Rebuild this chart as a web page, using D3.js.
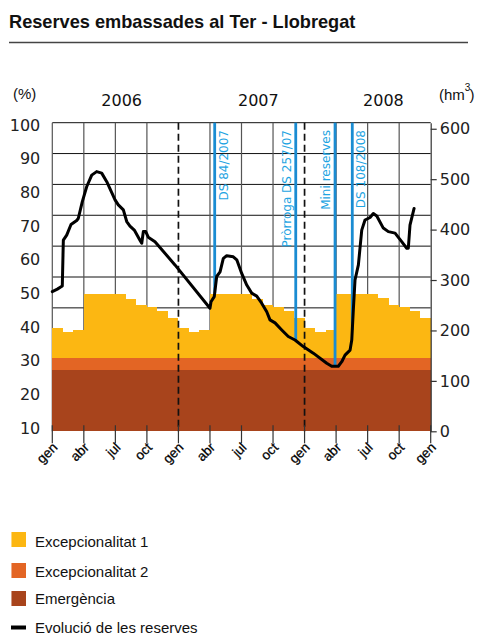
<!DOCTYPE html>
<html><head><meta charset="utf-8">
<script src="https://cdn.jsdelivr.net/npm/d3@7"></script>
<style>body{margin:0;background:#fff}svg{display:block}</style>
</head><body><svg id="c" width="478" height="634"></svg>
<script>
// ---------------- DATA ----------------
const title = "Reserves embassades al Ter - Llobregat";
const years = ["2006", "2007", "2008"];
const monthTicks = [0, 3, 6, 9, 12, 15, 18, 21, 24, 27, 30, 33, 36];
const monthLabels = ["gen", "abr", "jul", "oct", "gen", "abr", "jul", "oct", "gen", "abr", "jul", "oct", "gen"];
const yearBoundaries = [12, 24];
const pctTicks = [10, 20, 30, 40, 50, 60, 70, 80, 90, 100];
const pctGrid = [10, 20, 30, 40, 50, 60, 70, 80, 90, 100];
const hm3Ticks = [0, 100, 200, 300, 400, 500, 600];
const capacityHm3 = 612;

// monthly threshold levels (hm3), gen 2006 .. des 2008
const emergenciaHm3 = [122,122,122,122,122,122,122,122,122,122,122,122,
                       122,122,122,122,122,122,122,122,122,122,122,122,
                       122,122,122,122,122,122,122,122,122,122,122,122];
const excepcionalitat2Hm3 = [146,146,146,146,146,146,146,146,146,146,146,146,
                             146,146,146,146,146,146,146,146,146,146,146,146,
                             146,146,146,146,146,146,146,146,146,146,146,146];
const excepcionalitat1Hm3 = [204,196,200,272,272,272,272,263,251,246,239,225,
                             204,196,200,272,272,272,272,263,251,246,239,225,
                             204,196,200,272,272,272,272,265,251,246,239,225];

// reserves evolution: months since gen 2006, volume hm3
const reserveMonth = [0, 0.48, 0.95, 1.05, 1.37, 1.78, 2.32, 2.47, 2.85, 3.27, 3.75, 4.22, 4.70, 5.18,
  5.97, 6.28, 6.76, 7.08, 7.39, 7.80, 8.34, 8.51, 8.66, 8.89, 9.13, 9.77, 11.67, 15.0, 15.1, 15.41,
  15.64, 15.96, 16.27, 16.59, 17.22, 17.55, 18.02, 18.5, 18.97, 19.45, 19.92, 20.4, 20.71, 21.19,
  21.83, 22.45, 23.09, 23.88, 24.83, 26.11, 26.58, 27.21, 27.54, 27.85, 28.33, 28.49, 28.64, 28.8,
  29.12, 29.44, 29.75, 30.23, 30.54, 30.87, 31.49, 31.97, 32.61, 33.24, 33.72, 33.87, 34.03, 34.42];
const reserveHm3 = [277, 282, 288, 379, 389, 410, 418, 422, 455, 485, 508, 515, 512, 495,
  459, 449, 439, 416, 407, 399, 379, 373, 396, 396, 385, 376, 330, 244, 257, 267,
  307, 316, 343, 348, 346, 340, 313, 290, 274, 268, 254, 237, 221, 215,
  201, 188, 181, 168, 155, 135, 129, 129, 138, 151, 161, 181, 241, 300,
  330, 399, 419, 424, 432, 427, 403, 396, 393, 376, 363, 363, 409, 442];

const decreeLabels = ["DS 84/2007", "Pròrroga DS 257/07", "Mini reserves", "DS 108/2008"];
const decreeMonth = [15.45, 23.16, 26.9, 28.54];

const legendLabels = ["Excepcionalitat 1", "Excepcionalitat 2", "Emergència", "Evolució de les reserves"];

// ---------------- LAYOUT / STYLE ----------------
const C = {
  yellow: "#FCB712", orange: "#E36524", brown: "#A8441C",
  blue: "#1A8CD2", blueText: "#1DA4E2"
};
const M = { left: 52.3, right: 430.7, top: 122.7, bottom: 431.3 };
const yearLabelMonth = [6.6, 19.6, 31.5];
const decreeSide = [1, -1, -1, 1];
const NUM_FONT = "DejaVu Sans, Verdana, sans-serif";
const TXT_FONT = "Liberation Sans, Arial, Helvetica, sans-serif";

const svg = d3.select("#c");
const x = d3.scaleLinear().domain([0, 36]).range([M.left, M.right]);
const y = d3.scaleLinear().domain([0, capacityHm3]).range([M.bottom, M.top]);
const yPctLabel = d3.scaleLinear().domain([10, 100]).range([428, 125]);

// title
svg.append("text").attr("x", 9).attr("y", 28).text(title)
  .attr("font-family", TXT_FONT).attr("font-weight", "bold").attr("font-size", 18.2).attr("fill", "#111");
svg.append("line").attr("x1", 9).attr("x2", 468).attr("y1", 42.5).attr("y2", 42.5)
  .attr("stroke", "#444").attr("stroke-width", 1.3);

// grid
const grid = svg.append("g");
grid.selectAll("line.h").data(pctGrid).join("line")
  .attr("x1", M.left).attr("x2", M.right)
  .attr("y1", d => y(capacityHm3 * d / 100)).attr("y2", d => y(capacityHm3 * d / 100))
  .attr("stroke", "#111").attr("stroke-width", 1);
grid.selectAll("line.v").data(monthTicks.filter(m => m > 0 && m < 36 && !yearBoundaries.includes(m))).join("line")
  .attr("x1", d => x(d)).attr("x2", d => x(d)).attr("y1", M.top).attr("y2", M.bottom)
  .attr("stroke", "#555").attr("stroke-width", 1.2);
grid.append("line").attr("x1", M.left).attr("x2", M.left).attr("y1", M.top).attr("y2", M.bottom)
  .attr("stroke", "#555").attr("stroke-width", 1.2);

// bars (monthly threshold bands)
const months = d3.range(emergenciaHm3.length);
const bars = svg.append("g").attr("shape-rendering", "crispEdges");
bars.selectAll("rect.e1").data(months).join("rect")
  .attr("x", i => x(i)).attr("width", i => x(i + 1) - x(i))
  .attr("y", i => y(excepcionalitat1Hm3[i])).attr("height", i => y(excepcionalitat2Hm3[i]) - y(excepcionalitat1Hm3[i]))
  .attr("fill", C.yellow);
bars.selectAll("rect.e2").data(months).join("rect")
  .attr("x", i => x(i)).attr("width", i => x(i + 1) - x(i))
  .attr("y", i => y(excepcionalitat2Hm3[i])).attr("height", i => y(emergenciaHm3[i]) - y(excepcionalitat2Hm3[i]))
  .attr("fill", C.orange);
bars.selectAll("rect.em").data(months).join("rect")
  .attr("x", i => x(i)).attr("width", i => x(i + 1) - x(i))
  .attr("y", i => y(emergenciaHm3[i])).attr("height", i => y(0) - y(emergenciaHm3[i]))
  .attr("fill", C.brown);

// year boundaries (dashed)
svg.selectAll("line.yb").data(yearBoundaries).join("line")
  .attr("x1", d => x(d)).attr("x2", d => x(d)).attr("y1", M.top).attr("y2", M.bottom)
  .attr("stroke", "#111").attr("stroke-width", 1.7).attr("stroke-dasharray", "7,4");

// bottom ticks + labels
const xt = svg.append("g");
xt.selectAll("line").data(monthTicks).join("line")
  .attr("x1", d => x(d)).attr("x2", d => x(d)).attr("y1", M.bottom - 6).attr("y2", M.bottom + 12)
  .attr("stroke", "#333").attr("stroke-width", 1.2);
xt.selectAll("text").data(monthTicks).join("text")
  .attr("transform", d => `translate(${x(d) + 6},${M.bottom + 17}) rotate(-45)`)
  .attr("text-anchor", "end").attr("font-family", TXT_FONT).attr("font-size", 13.5).attr("fill", "#000")
  .attr("stroke", "#000").attr("stroke-width", 0.25)
  .text((d, i) => monthLabels[i]);

// right axis (hm3)
const ra = svg.append("g").attr("transform", `translate(${M.right},0)`)
  .call(d3.axisRight(y).tickValues(hm3Ticks).tickSize(6).tickSizeOuter(0).tickPadding(3));
ra.select(".domain").attr("stroke", "#333").attr("stroke-width", 1.2);
ra.selectAll(".tick line").attr("stroke", "#333").attr("stroke-width", 1.2);
ra.selectAll(".tick text").attr("font-family", NUM_FONT).attr("font-size", 16).attr("fill", "#222");

// left labels (%)
const la = svg.append("g").attr("transform", `translate(${M.left},0)`)
  .call(d3.axisLeft(yPctLabel).tickValues(pctTicks).tickSize(0).tickPadding(12));
la.select(".domain").remove();
la.selectAll(".tick text").attr("font-family", NUM_FONT).attr("font-size", 16).attr("fill", "#222");

// units and years
svg.append("text").attr("x", 13).attr("y", 98.5).text("(%)")
  .attr("font-family", TXT_FONT).attr("font-size", 15).attr("fill", "#111");
const hm = svg.append("text").attr("x", 439).attr("y", 99.5)
  .attr("font-family", TXT_FONT).attr("font-size", 15).attr("fill", "#111");
hm.append("tspan").text("(hm");
hm.append("tspan").attr("dy", -9).attr("font-size", 10).text("3");
hm.append("tspan").attr("dy", 9).attr("dx", -1).text(")");
svg.selectAll("text.yr").data(years).join("text")
  .attr("x", (d, i) => x(yearLabelMonth[i])).attr("y", 106).attr("text-anchor", "middle")
  .attr("font-family", NUM_FONT).attr("font-size", 16).attr("fill", "#111").text(d => d);

// reserves line
const pts = reserveMonth.map((m, i) => [m, reserveHm3[i]]);
const interp = m => {
  for (let i = 1; i < pts.length; i++) {
    if (pts[i][0] >= m) {
      const t = (m - pts[i - 1][0]) / (pts[i][0] - pts[i - 1][0]);
      return pts[i - 1][1] + t * (pts[i][1] - pts[i - 1][1]);
    }
  }
  return pts[pts.length - 1][1];
};

// decree lines
svg.selectAll("line.dec").data(decreeMonth).join("line")
  .attr("x1", d => x(d)).attr("x2", d => x(d)).attr("y1", M.top).attr("y2", d => y(interp(d)))
  .attr("stroke", C.blue).attr("stroke-width", 2.8);

svg.append("path").datum(pts)
  .attr("d", d3.line().x(d => x(d[0])).y(d => y(d[1])))
  .attr("fill", "none").attr("stroke", "#000").attr("stroke-width", 3)
  .attr("stroke-linejoin", "round").attr("stroke-linecap", "round");

svg.selectAll("text.dec").data(decreeLabels).join("text")
  .attr("transform", (d, i) => `translate(${x(decreeMonth[i]) + decreeSide[i] * 9},130) rotate(-90)`)
  .attr("text-anchor", "end").attr("dy", "0.35em")
  .attr("font-family", NUM_FONT).attr("font-size", 12).attr("fill", C.blueText).text(d => d);

// legend
const legendColors = [C.yellow, C.orange, C.brown];
const legendBoxY = [532, 563, 591];
const legendTextY = [546.5, 577, 603.5, 632.5];
const lg = svg.append("g");
lg.selectAll("rect").data(legendColors).join("rect")
  .attr("x", 11).attr("y", (d, i) => legendBoxY[i]).attr("width", 15).attr("height", 15).attr("fill", d => d);
lg.selectAll("line.hl").data(legendColors).join("line")
  .attr("x1", 11.5).attr("x2", 11.5).attr("y1", (d, i) => legendBoxY[i]).attr("y2", (d, i) => legendBoxY[i] + 15)
  .attr("stroke", "#fff").attr("stroke-opacity", 0.45).attr("stroke-width", 1);
lg.append("line").attr("x1", 11).attr("x2", 26).attr("y1", 627.5).attr("y2", 627.5)
  .attr("stroke", "#000").attr("stroke-width", 4);
lg.selectAll("text").data(legendLabels).join("text")
  .attr("x", 35).attr("y", (d, i) => legendTextY[i])
  .attr("font-family", TXT_FONT).attr("font-size", 15).attr("fill", "#111").text(d => d);
</script></body></html>
